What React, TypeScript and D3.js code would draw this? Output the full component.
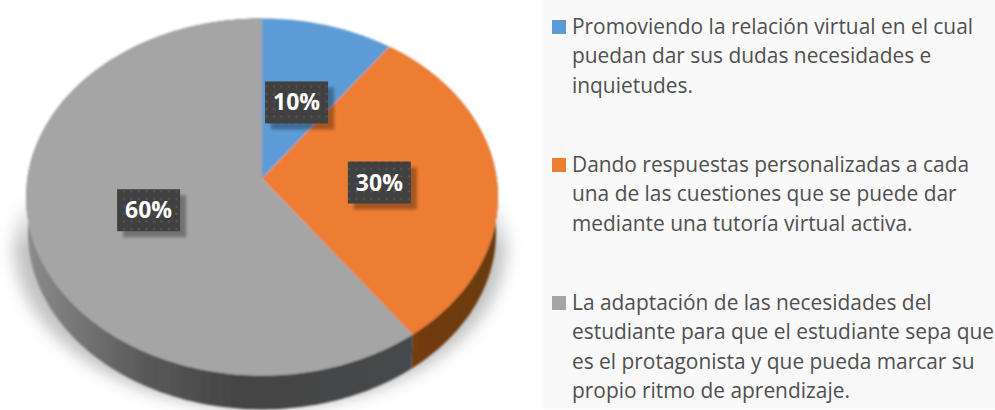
import React from "react";
import * as d3 from "d3";

const values = [10, 30, 60];
const labels = ["10%", "30%", "60%"];
const colors = ["#5b9bd5", "#ed7d31", "#a5a5a5"];
const legendLines = [
  ["Promoviendo la relación virtual en el cual", "puedan dar sus dudas necesidades e", "inquietudes."],
  ["Dando respuestas personalizadas a cada", "una de las cuestiones que se puede dar", "mediante una tutoría virtual activa."],
  ["La adaptación de las necesidades del", "estudiante para que el estudiante sepa que", "es el protagonista y que pueda marcar su", "propio ritmo de aprendizaje."],
];
const legendY = [34, 172, 310];

const cx = 262, cy = 178.5, b = 234.7, a = 176.6, k = 0.1036, depth = 35.5;
const project = (ang: number, r = 1, dy = 0, sc = 1): [number, number] => {
  const u = Math.sin(ang) * r;
  const v = -Math.cos(ang) * r;
  const w = 1 - k * v;
  return [cx + (sc * b * u) / w, cy + (sc * a * v) / w + dy];
};
const range = (a0: number, a1: number) => {
  const n = Math.max(2, Math.ceil((a1 - a0) / 0.02));
  return d3.range(n + 1).map((i) => a0 + ((a1 - a0) * i) / n);
};
const line = d3.line();
const arcs = d3.pie<number>().sort(null)(values);

const wallPath = (a0: number, a1: number) => {
  const top = range(a0, a1).map((t) => project(t));
  const bot = range(a0, a1).reverse().map((t) => project(t, 1, depth, 0.992));
  return line([...top, ...bot]) + "Z";
};
const slicePath = (a0: number, a1: number) =>
  line([[cx, cy], ...range(a0, a1).map((t) => project(t))]) + "Z";

export default function App() {
  return (
    <svg width={995} height={410} style={{ position: "absolute", left: 0, top: 0, background: "#fff" }}
      fontFamily="'Open Sans', sans-serif">
      <defs>
        <filter id="blur" x="-20%" y="-20%" width="140%" height="140%"><feGaussianBlur stdDeviation="8" /></filter>
        <filter id="soft"><feGaussianBlur stdDeviation="0.8" /></filter>
        <filter id="lbl" x="-30%" y="-30%" width="160%" height="160%"><feGaussianBlur stdDeviation="1.5" /></filter>
        <linearGradient id="shFade" gradientUnits="userSpaceOnUse" x1="0" y1="195" x2="0" y2="250">
          <stop offset="0" stopColor="#000" />
          <stop offset="1" stopColor="#fff" />
        </linearGradient>
        <mask id="shMask" maskUnits="userSpaceOnUse" x="0" y="0" width="535" height="410">
          <rect x="0" y="0" width="535" height="410" fill="url(#shFade)" />
        </mask>
        <linearGradient id="wallGrey" gradientUnits="userSpaceOnUse" x1="26" y1="0" x2="412" y2="0">
          <stop offset="0" stopColor="#8c8c8c" />
          <stop offset="0.3" stopColor="#5a5a5a" />
          <stop offset="0.55" stopColor="#444444" />
          <stop offset="1" stopColor="#45494c" />
        </linearGradient>
        <linearGradient id="wallOrange" gradientUnits="userSpaceOnUse" x1="410" y1="0" x2="498" y2="0">
          <stop offset="0" stopColor="#743c0e" />
          <stop offset="1" stopColor="#6a3a12" />
        </linearGradient>
        <pattern id="dots" width="7.5" height="7.5" patternUnits="userSpaceOnUse">
          <rect width="7.5" height="7.5" fill="#404040" />
          <rect x="3" y="3" width="2" height="2" fill="#585858" />
        </pattern>
      </defs>
      <rect x={543} y={0} width={452} height={409} fill="#f9f9f9" />
      <g mask="url(#shMask)">
        <ellipse cx={260} cy={245} rx={246} ry={164} fill="#c2c2c2" filter="url(#blur)" />
      </g>
      <g filter="url(#soft)">
        {arcs.map((d, i) => i === 0 ? null : (
          <path key={i} d={wallPath(d.startAngle, d.endAngle)} fill={i === 1 ? "url(#wallOrange)" : "url(#wallGrey)"} />
        ))}
        {arcs.map((d, i) => (
          <path key={i} d={slicePath(d.startAngle, d.endAngle)} fill={colors[i]} />
        ))}
      </g>
      {arcs.map((d, i) => {
        const [x, y0] = project((d.startAngle + d.endAngle) / 2, 0.5);
        const y = y0 + 4;
        const w = 63, h = 42;
        return (
          <g key={i}>
            <rect x={x - w / 2 + 6} y={y - h / 2 + 6} width={w} height={h} fill="#000" opacity={0.3} filter="url(#lbl)" />
            <rect x={x - w / 2} y={y - h / 2} width={w} height={h} fill="url(#dots)" />
            <text x={x} y={y + 8} textAnchor="middle" fontSize={23} fontWeight={700} fill="#fff">{labels[i]}</text>
          </g>
        );
      })}
      {legendLines.map((ls, i) => (
        <g key={i}>
          <rect x={552} y={legendY[i] - 14} width={14} height={14} fill={colors[i]} />
          {ls.map((s, j) => (
            <text key={j} x={572} y={legendY[i] + j * 29.3} fontSize={20.9} fill="#505050">{s}</text>
          ))}
        </g>
      ))}
    </svg>
  );
}
